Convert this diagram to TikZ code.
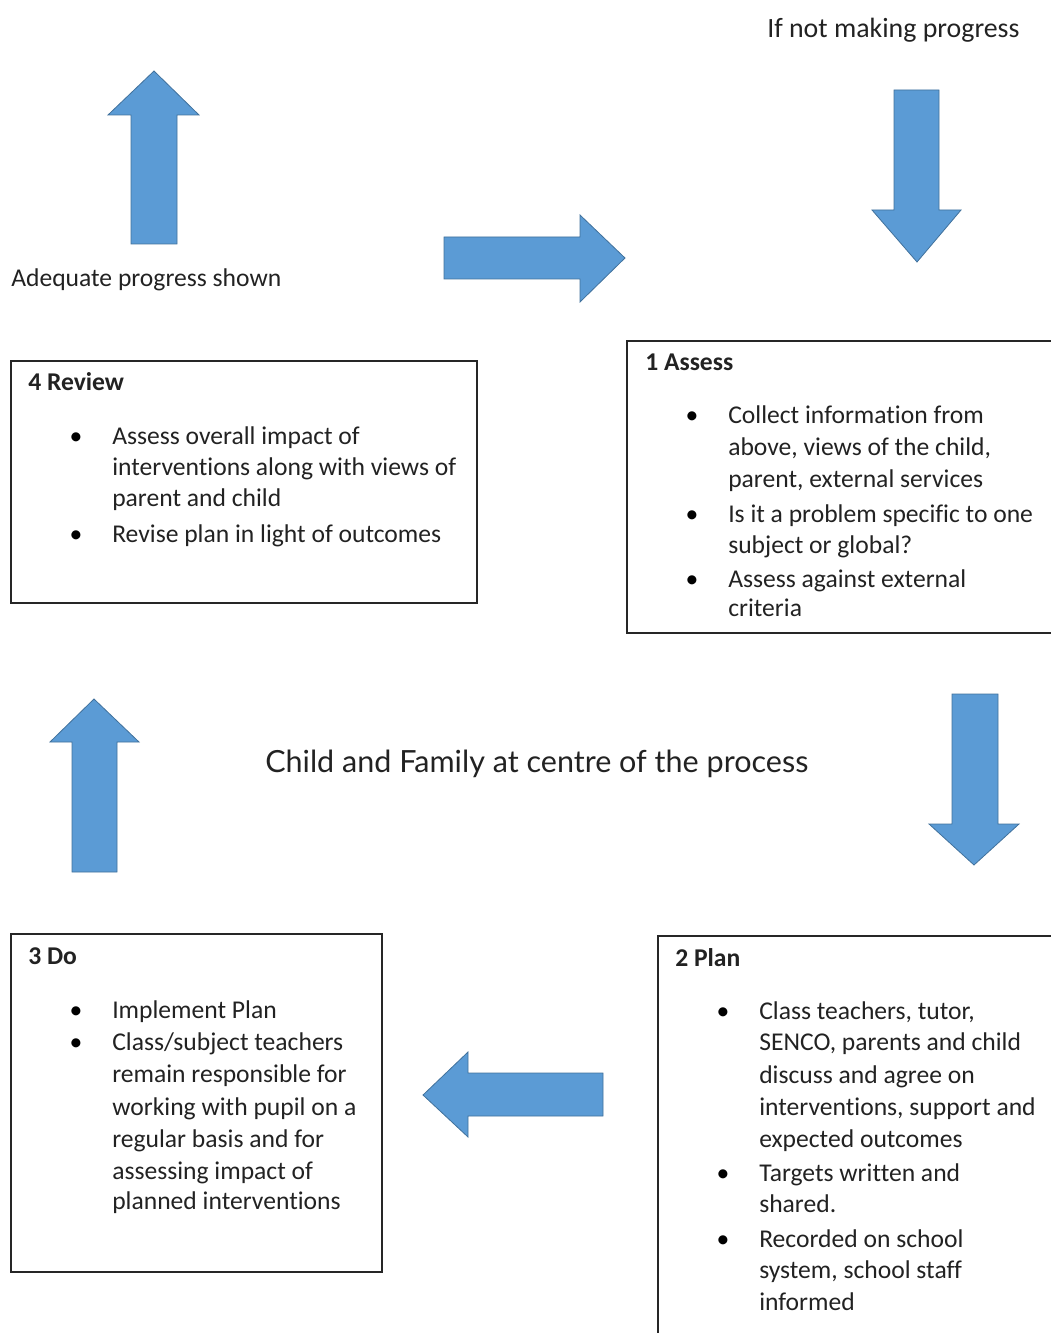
\documentclass[tikz,border=0pt]{standalone}
\usepackage{fontspec}
\setmainfont{Carlito}[Ligatures={NoCommon,NoRare}]
\newfontfamily\titlefont{Lato}[Ligatures={NoCommon,NoRare}]
\definecolor{arrowblue}{HTML}{5B9BD5}
\definecolor{arrowedge}{HTML}{41719C}
\definecolor{ink}{HTML}{222222}
\begin{document}
\begin{tikzpicture}[x=0.75pt,y=-0.75pt,
  blockarrow/.style={fill=arrowblue,draw=arrowedge,line width=0.6pt,line join=miter},
  frame/.style={draw=black!85,line width=1.3pt},
  txt/.style={anchor=base west,inner sep=0pt,text=ink,font=\fontsize{19.2}{22}\selectfont},
  headtxt/.style={txt,font=\fontsize{19.2}{22}\selectfont\bfseries},
  bul/.style={anchor=base,inner sep=0pt,text=black,font=\fontsize{19.2}{22}\selectfont}]
\useasboundingbox (0,0) rectangle (1050,1333);

% block arrows
\draw[blockarrow] (131,244) -- (131,115) -- (108,115) -- (154,71) -- (199,115) -- (177,115) -- (177,244) -- cycle;
\draw[blockarrow] (444,237) -- (580,237) -- (580,215) -- (625,258) -- (580,302) -- (580,279) -- (444,279) -- cycle;
\draw[blockarrow] (894,90) -- (939,90) -- (939,210) -- (961,210) -- (917,262) -- (872,210) -- (894,210) -- cycle;
\draw[blockarrow] (72,872) -- (72,742) -- (50,742) -- (94,699) -- (139,742) -- (117,742) -- (117,872) -- cycle;
\draw[blockarrow] (952,694) -- (998,694) -- (998,824) -- (1019,824) -- (974,865) -- (929,824) -- (952,824) -- cycle;
\draw[blockarrow] (603,1073) -- (468,1073) -- (468,1052) -- (423,1095) -- (468,1137) -- (468,1116) -- (603,1116) -- cycle;

% frames
\draw[frame] (11,361) rectangle (477,603);
\draw[frame] (1055,341) -- (627,341) -- (627,633) -- (1055,633);
\draw[frame] (11,934) rectangle (382,1272);
\draw[frame] (1055,936) -- (658,936) -- (658,1340);

% loose labels
\node[txt,font=\fontsize{20.9}{24}\selectfont] (notprog) at (767,38) {If not making progress};
\node[txt] (adeq) at (11,287) {Adequate progress shown};
\node[anchor=base west,inner sep=0pt,text=ink,font=\titlefont\fontsize{22.9}{27}\selectfont] (title) at (265,772) {Child and Family at centre of the process};

% 4 Review
\node[headtxt] (rvh) at (28,390) {4 Review};
\node[bul] (rvb1) at (76,444) {\textbullet};
\node[txt] (rv1) at (112,444) {Assess overall impact of};
\node[txt] (rv2) at (112,475) {interventions along with views of};
\node[txt] (rv3) at (112,506) {parent and child};
\node[bul] (rvb2) at (76,542) {\textbullet};
\node[txt] (rv4) at (112,542) {Revise plan in light of outcomes};

% 1 Assess
\node[headtxt] (ash) at (645,370) {1 Assess};
\node[bul] (asb1) at (692,423) {\textbullet};
\node[txt] (as1) at (728,423) {Collect information from};
\node[txt] (as2) at (728,455) {above, views of the child,};
\node[txt] (as3) at (728,487) {parent, external services};
\node[bul] (asb2) at (692,522) {\textbullet};
\node[txt] (as4) at (728,522) {Is it a problem specific to one};
\node[txt] (as5) at (728,553) {subject or global?};
\node[bul] (asb3) at (692,587) {\textbullet};
\node[txt] (as6) at (728,587) {Assess against external};
\node[txt] (as7) at (728,616) {criteria};

% 3 Do
\node[headtxt] (doh) at (28,964) {3 Do};
\node[bul] (dob1) at (76,1018) {\textbullet};
\node[txt] (do1) at (112,1018) {Implement Plan};
\node[bul] (dob2) at (76,1050) {\textbullet};
\node[txt] (do2) at (112,1050) {Class/subject teachers};
\node[txt] (do3) at (112,1082) {remain responsible for};
\node[txt] (do4) at (112,1115) {working with pupil on a};
\node[txt] (do5) at (112,1147) {regular basis and for};
\node[txt] (do6) at (112,1179) {assessing impact of};
\node[txt] (do7) at (112,1209) {planned interventions};

% 2 Plan
\node[headtxt] (plh) at (675,966) {2 Plan};
\node[bul] (plb1) at (723,1019) {\textbullet};
\node[txt] (pl1) at (759,1019) {Class teachers, tutor,};
\node[txt] (pl2) at (759,1050) {SENCO, parents and child};
\node[txt] (pl3) at (759,1083) {discuss and agree on};
\node[txt] (pl4) at (759,1115) {interventions, support and};
\node[txt] (pl5) at (759,1147) {expected outcomes};
\node[bul] (plb2) at (723,1181) {\textbullet};
\node[txt] (pl6) at (759,1181) {Targets written and};
\node[txt] (pl7) at (759,1212) {shared.};
\node[bul] (plb3) at (723,1247) {\textbullet};
\node[txt] (pl8) at (759,1247) {Recorded on school};
\node[txt] (pl9) at (759,1278) {system, school staff};
\node[txt] (pl10) at (759,1310) {informed};
\end{tikzpicture}
\end{document}
